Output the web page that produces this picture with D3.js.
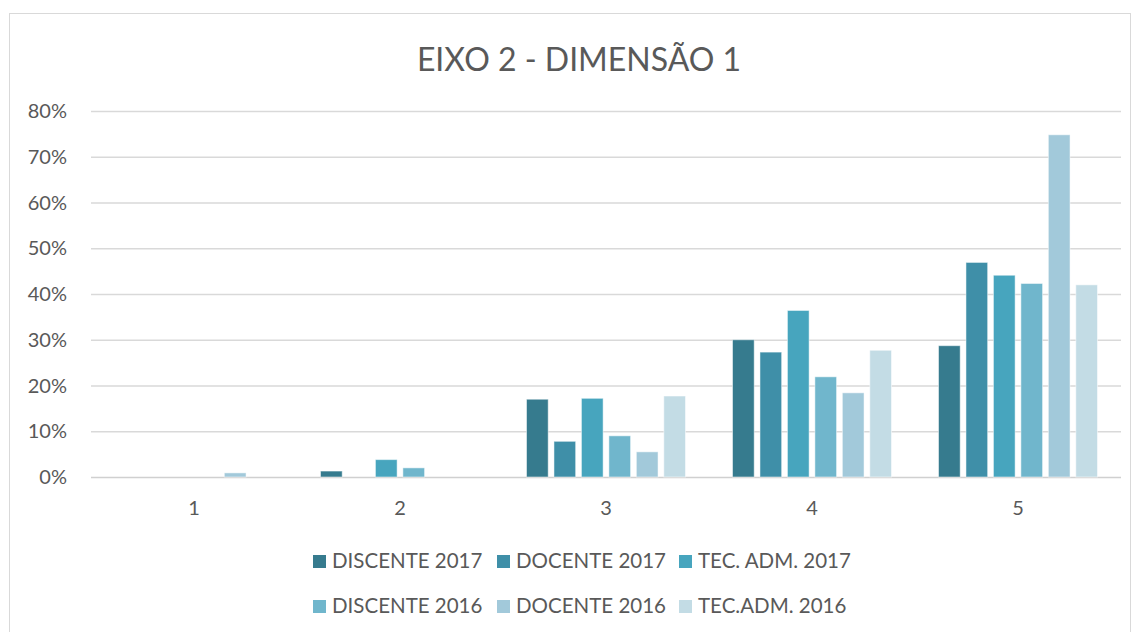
<!DOCTYPE html>
<html>
<head>
<meta charset="utf-8">
<script src="https://cdn.jsdelivr.net/npm/d3@7"></script>
<style>
body{margin:0;background:#fff;font-family:Lato,"Open Sans",sans-serif;}
</style>
</head>
<body>
<script>
// dados
var categories = ["1","2","3","4","5"];
var seriesNames = ["DISCENTE 2017","DOCENTE 2017","TEC. ADM. 2017","DISCENTE 2016","DOCENTE 2016","TEC.ADM. 2016"];
var discente2017 = [0, 1.3, 17.0, 30.0, 28.7];
var docente2017 = [0, 0, 7.8, 27.3, 46.9];
var tecAdm2017 = [0, 3.8, 17.2, 36.4, 44.1];
var discente2016 = [0, 2.0, 9.0, 21.9, 42.3];
var docente2016 = [0.9, 0, 5.5, 18.4, 74.8];
var tecAdm2016 = [0, 0, 17.7, 27.7, 42.0];
var yTicks = [0,10,20,30,40,50,60,70,80];
var colors = ["#367b8e","#3f8fa8","#47a5be","#70b6cc","#a2c9da","#c3dce5"];

var series = [discente2017, docente2017, tecAdm2017, discente2016, docente2016, tecAdm2016];

var W = 1137, H = 632;
var svg = d3.select("body").append("svg").attr("width", W).attr("height", H);

// moldura do gráfico
svg.append("rect")
	.attr("x", 9.5).attr("y", 13.5)
	.attr("width", 1121).attr("height", 640)
	.style("fill", "#fff")
	.style("stroke", "#d9d9d9");

svg.append("text")
	.text("EIXO 2 - DIMENSÃO 1")
	.attr("x", 579).attr("y", 71)
	.attr("text-anchor", "middle")
	.style("font-size", "32px")
	.style("fill", "#595959");

var x0 = d3.scaleBand().domain(categories).range([91, 1121]);
var x1 = d3.scaleBand().domain(d3.range(6)).range([23.5, 182.5]).paddingInner(0.21);
var y = d3.scaleLinear().domain([0, 80]).range([477, 111]);

// linhas de grade
svg.selectAll(".grid")
	.data(yTicks)
	.enter()
	.append("line")
	.attr("x1", 91).attr("x2", 1121)
	.attr("y1", function(d){ return y(d) + 0.5; })
	.attr("y2", function(d){ return y(d) + 0.5; })
	.style("stroke", function(d){ return d === 0 ? "#d0d0d0" : "#d9d9d9"; })
	.style("stroke-width", 1.5);

svg.selectAll(".ylab")
	.data(yTicks)
	.enter()
	.append("text")
	.text(function(d){ return d + "%"; })
	.attr("x", 67)
	.attr("y", function(d){ return y(d); })
	.attr("dy", ".35em")
	.attr("text-anchor", "end")
	.style("font-size", "20px")
	.style("fill", "#595959");

svg.selectAll(".xlab")
	.data(categories)
	.enter()
	.append("text")
	.text(function(d){ return d; })
	.attr("x", function(d){ return x0(d) + x0.bandwidth() / 2; })
	.attr("y", 508)
	.attr("dy", ".35em")
	.attr("text-anchor", "middle")
	.style("font-size", "20px")
	.style("fill", "#595959");

var groups = svg.selectAll(".grupo")
	.data(categories)
	.enter()
	.append("g")
	.attr("transform", function(d){ return "translate(" + x0(d) + ",0)"; });

groups.selectAll("rect")
	.data(function(d, ci){
		return series.map(function(s, si){ return {si: si, v: s[ci]}; });
	})
	.enter()
	.append("rect")
	.filter(function(d){ return d.v > 0; })
	.attr("x", function(d){ return x1(d.si); })
	.attr("width", x1.bandwidth())
	.attr("y", function(d){ return y(d.v); })
	.attr("height", function(d){ return y(0) - y(d.v); })
	.style("fill", function(d){ return colors[d.si]; })
	.style("stroke", "rgba(255,255,255,0.5)")
	.style("stroke-width", 1);

// legenda
var legX = [313, 497, 679];
var legY = [561, 606];
var leg = svg.selectAll(".leg")
	.data(seriesNames)
	.enter()
	.append("g")
	.attr("transform", function(d, i){
		return "translate(" + legX[i % 3] + "," + legY[Math.floor(i / 3)] + ")";
	});
leg.append("rect")
	.attr("x", 0).attr("y", -6)
	.attr("width", 13).attr("height", 13)
	.style("fill", function(d, i){ return colors[i]; });
leg.append("text")
	.text(function(d){ return d; })
	.attr("x", 19)
	.attr("dy", ".35em")
	.style("font-size", "20.5px")
	.style("fill", "#595959");
</script>
</body>
</html>
